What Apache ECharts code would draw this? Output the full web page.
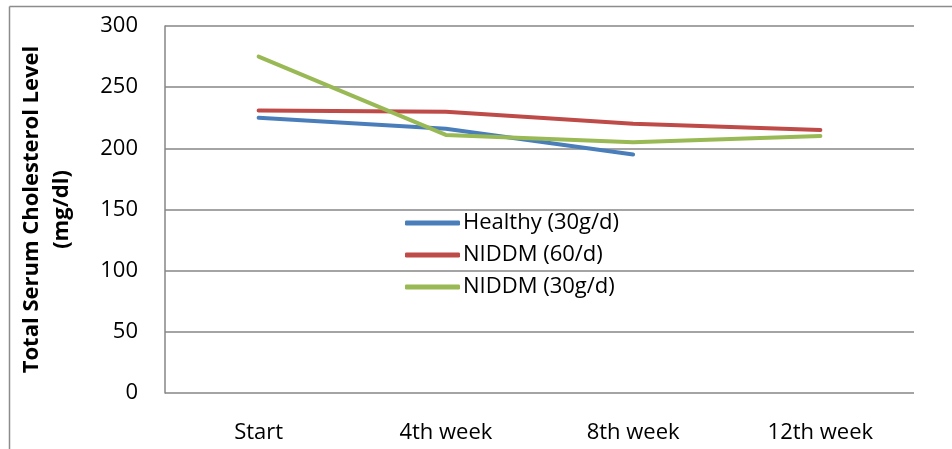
<!DOCTYPE html>
<html>
<head>
<meta charset="utf-8">
<script src="https://cdn.jsdelivr.net/npm/echarts@6/dist/echarts.min.js"></script>
<style>
  html, body { margin: 0; padding: 0; background: #fff; }
  #chart { width: 952px; height: 449px; }
</style>
</head>
<body>
<div id="chart"></div>
<script>
// data
var weeks = ['Start', '4th week', '8th week', '12th week'];
var healthy30 = [225, 216, 195, null];
var niddm60 = [231, 230, 220, 215];
var niddm30 = [275, 211, 205, 210];

var chart = echarts.init(document.getElementById('chart'));
var font = 'Open Sans';

function lineSeries(name, data, color) {
  return {
    name: name,
    type: 'line',
    data: data,
    symbol: 'none',
    lineStyle: { width: 4, color: color, cap: 'round', join: 'round' },
    itemStyle: { color: color },
    animation: false
  };
}

chart.setOption({
  backgroundColor: '#fff',
  grid: { left: 165, right: 38, top: 26, bottom: 56 },
  // outer frame of the chart (top and left edges visible)
  graphic: [
    { type: 'line', shape: { x1: 9.5, y1: 6.5, x2: 952, y2: 6.5 }, style: { stroke: '#8c8c8c', lineWidth: 1.5 } },
    { type: 'line', shape: { x1: 9.5, y1: 6.5, x2: 9.5, y2: 449 }, style: { stroke: '#8c8c8c', lineWidth: 1.5 } }
  ],
  legend: {
    orient: 'vertical',
    left: 400,
    top: 207,
    icon: 'roundRect',
    itemWidth: 55,
    itemHeight: 5,
    itemGap: 10,
    textStyle: { fontFamily: font, fontSize: 22, color: '#000', padding: [0, 0, 0, -2] },
    data: ['Healthy (30g/d)', 'NIDDM (60/d)', 'NIDDM (30g/d)']
  },
  xAxis: {
    type: 'category',
    data: weeks,
    boundaryGap: true,
    axisLine: { show: false },
    axisTick: { show: false },
    axisLabel: { fontFamily: font, fontSize: 22, color: '#000', margin: 29 }
  },
  yAxis: {
    type: 'value',
    min: 0,
    max: 300,
    interval: 50,
    name: 'Total Serum Cholesterol Level\n(mg/dl)',
    nameLocation: 'middle',
    nameRotate: 90,
    nameGap: 88,
    nameTextStyle: { fontFamily: font, fontSize: 22, fontWeight: 'bold', color: '#000', lineHeight: 30 },
    axisLine: { show: true, lineStyle: { color: '#868686', width: 1.5 } },
    axisTick: { show: false },
    splitLine: { lineStyle: { color: '#868686', width: 1.5 } },
    axisLabel: { fontFamily: font, fontSize: 22, color: '#000', margin: 27 }
  },
  series: [
    lineSeries('Healthy (30g/d)', healthy30, '#4a7ebb'),
    lineSeries('NIDDM (60/d)', niddm60, '#be4b48'),
    lineSeries('NIDDM (30g/d)', niddm30, '#98b954')
  ]
});
</script>
</body>
</html>
